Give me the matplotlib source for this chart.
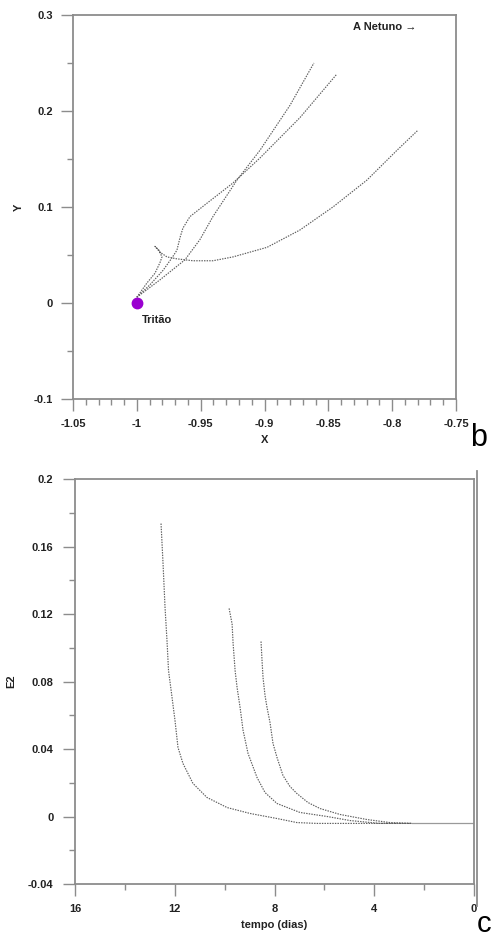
import matplotlib
matplotlib.use("Agg")
import matplotlib.pyplot as plt
from matplotlib.lines import Line2D
from matplotlib.ticker import MultipleLocator

# ---------------- data: panel b (trajectories) ----------------
trajA_x = [-1.0, -0.982, -0.9623, -0.9506, -0.9404, -0.9216, -0.9036, -0.88, -0.8613]
trajA_y = [0.006, 0.024, 0.045, 0.066, 0.090, 0.128, 0.159, 0.206, 0.25]

trajB_x = [-1.0, -0.9897, -0.9795, -0.9725, -0.9686, -0.9662, -0.9639, -0.9584, -0.945,
           -0.9247, -0.9036, -0.8723, -0.8433]
trajB_y = [0.006, 0.019, 0.034, 0.047, 0.055, 0.068, 0.078, 0.090, 0.104,
           0.125, 0.151, 0.193, 0.2385]

trajC_x = [-1.0, -0.992, -0.9858, -0.9819, -0.9803, -0.9827, -0.9858, -0.9819, -0.9764,
           -0.9686, -0.956, -0.9404, -0.9247, -0.898, -0.8723, -0.8464, -0.8198, -0.7963, -0.7798]
trajC_y = [0.006, 0.021, 0.031, 0.042, 0.048, 0.055, 0.059, 0.053, 0.048,
           0.046, 0.044, 0.044, 0.048, 0.058, 0.076, 0.100, 0.128, 0.159, 0.180]

triton_xy = (-1.0, 0.0)

b_xticks = [-1.05, -1.0, -0.95, -0.9, -0.85, -0.8, -0.75]
b_xlabels = ["-1.05", "-1", "-0.95", "-0.9", "-0.85", "-0.8", "-0.75"]
b_yticks = [-0.1, 0.0, 0.1, 0.2, 0.3]
b_ylabels = ["-0.1", "0", "0.1", "0.2", "0.3"]

# ---------------- data: panel c (E2 vs time) ----------------
c1_t = [12.55, 12.47, 12.39, 12.31, 12.25, 12.13, 11.99, 11.87, 11.67, 11.27, 10.71,
        9.90, 8.98, 7.90, 7.10, 6.30, 2.49]
c1_e = [0.1736, 0.150, 0.124, 0.104, 0.0865, 0.0730, 0.0569, 0.0409, 0.0314, 0.0196, 0.0113,
        0.0053, 0.0018, -0.0012, -0.0036, -0.0041, -0.0041]

c2_t = [9.82, 9.70, 9.66, 9.58, 9.50, 9.38, 9.26, 9.06, 8.70, 8.38, 7.90, 6.98, 5.89,
        4.97, 3.77, 2.49]
c2_e = [0.1233, 0.114, 0.1025, 0.0865, 0.0764, 0.0646, 0.051, 0.0373, 0.0231, 0.0142,
        0.0077, 0.0024, 0.0000, -0.0024, -0.0041, -0.0041]

c3_t = [8.54, 8.50, 8.46, 8.38, 8.30, 8.18, 8.06, 7.90, 7.66, 7.38, 7.10, 6.66, 6.17,
        5.37, 4.29, 3.37, 2.49]
c3_e = [0.1037, 0.0924, 0.0824, 0.0717, 0.0646, 0.0557, 0.0433, 0.035, 0.0243, 0.0178,
        0.0136, 0.0083, 0.0047, 0.0012, -0.0018, -0.0036, -0.0041]

tail_t = [2.49, 0.0]
tail_e = [-0.0041, -0.0041]

c_xticks = [16, 12, 8, 4, 0]
c_xlabels = ["16", "12", "8", "4", "0"]
c_yticks = [-0.04, 0.0, 0.04, 0.08, 0.12, 0.16, 0.2]
c_ylabels = ["-0.04", "0", "0.04", "0.08", "0.12", "0.16", "0.2"]

# ---------------- figure ----------------
plt.rcParams['font.family'] = ['Liberation Sans', 'DejaVu Sans']
W, H = 493, 938
fig = plt.figure(figsize=(W / 100, H / 100), dpi=100)

spine_col = '#8c8c8c'
curve_col = '#5e5e5e'
FS = 8
lbl_kw = dict(fontsize=FS, fontweight='bold', color='#222222')


def style_axes(ax, xpad, ypad):
    for s in ax.spines.values():
        s.set_color(spine_col)
        s.set_linewidth(1.3)
    ax.tick_params(which='major', direction='out', length=8.5, width=1.0, color=spine_col,
                   labelsize=FS, top=False, right=False)
    ax.tick_params(which='minor', direction='out', length=4.5, width=1.0, color=spine_col,
                   top=False, right=False)
    ax.tick_params(axis='x', pad=xpad)
    ax.tick_params(axis='y', pad=ypad)
    for lab in ax.get_xticklabels() + ax.get_yticklabels():
        lab.set_fontweight('bold')
        lab.set_color('#222222')


dot = (0, (1.2, 1.0))

# Panel b
axb = fig.add_axes([73 / W, 1 - 399 / H, (456 - 73) / W, (399 - 15) / H])
axb.plot(trajA_x, trajA_y, color=curve_col, lw=0.85, ls=dot)
axb.plot(trajB_x, trajB_y, color=curve_col, lw=0.85, ls=dot)
axb.plot(trajC_x, trajC_y, color=curve_col, lw=0.85, ls=dot)
axb.plot([triton_xy[0]], [triton_xy[1]], 'o', color='#9a00d0', markersize=7.5, zorder=5)
axb.set_xlim(-1.05, -0.75)
axb.set_ylim(-0.1, 0.3)
axb.set_xticks(b_xticks)
axb.set_xticklabels(b_xlabels)
axb.set_yticks(b_yticks)
axb.set_yticklabels(b_ylabels)
axb.xaxis.set_minor_locator(MultipleLocator(0.01))
axb.yaxis.set_minor_locator(MultipleLocator(0.05))
style_axes(axb, 6, 6)
axb.set_xlabel('X', **lbl_kw, labelpad=4.5)
axb.set_ylabel('Y', **lbl_kw, labelpad=7)
axb.text(-0.996, -0.012, 'Tritão', ha='left', va='top', **lbl_kw)
axb.text(-0.8305, 0.287, 'A Netuno →', ha='left', va='center', **lbl_kw)

# Panel c
axc = fig.add_axes([75 / W, 1 - 884 / H, (474 - 75) / W, (884 - 479) / H])
axc.plot(c1_t, c1_e, color=curve_col, lw=0.85, ls=dot)
axc.plot(c2_t, c2_e, color=curve_col, lw=0.85, ls=dot)
axc.plot(c3_t, c3_e, color=curve_col, lw=0.85, ls=dot)
axc.plot(tail_t, tail_e, color='#9a9a9a', lw=0.9)
axc.set_xlim(16, 0)
axc.set_ylim(-0.04, 0.2)
axc.set_xticks(c_xticks)
axc.set_xticklabels(c_xlabels)
axc.set_yticks(c_yticks)
axc.set_yticklabels(c_ylabels)
axc.xaxis.set_minor_locator(MultipleLocator(2))
axc.yaxis.set_minor_locator(MultipleLocator(0.02))
style_axes(axc, 6, 7)
axc.set_xlabel('tempo (dias)', **lbl_kw, labelpad=4.5)
axc.set_ylabel('E2', **lbl_kw, labelpad=8)

# extra border line at right of panel c
fig.add_artist(Line2D([477 / W, 477 / W], [1 - 906 / H, 1 - 471 / H], color=spine_col, lw=1.3))

# panel letters
fig.text(470 / W, 1 - 438 / H, 'b', fontsize=22, ha='left', va='center', color='black')
fig.text(477 / W, 1 - 924 / H, 'c', fontsize=21, ha='left', va='center', color='black')

fig.savefig('out.png', dpi=100, facecolor='white')
